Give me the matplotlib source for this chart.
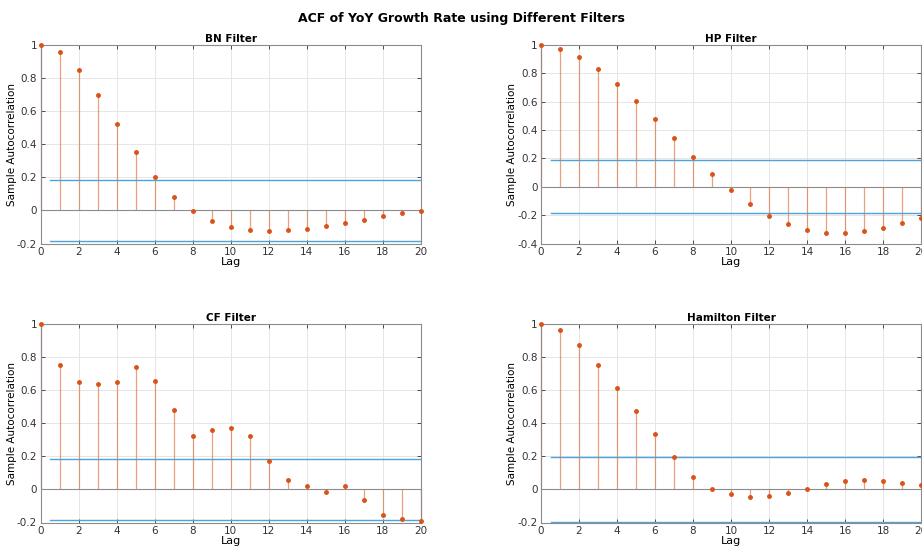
import numpy as np
import matplotlib.pyplot as plt

lags = np.arange(21)

bn_acf = [1, 0.958, 0.85, 0.695, 0.522, 0.352, 0.205, 0.083, -0.005, -0.065, -0.102,
          -0.12, -0.125, -0.12, -0.11, -0.095, -0.078, -0.058, -0.035, -0.017, -0.005]
hp_acf = [1, 0.97, 0.912, 0.83, 0.725, 0.607, 0.48, 0.343, 0.213, 0.088, -0.025,
          -0.122, -0.205, -0.265, -0.305, -0.325, -0.328, -0.315, -0.29, -0.258, -0.22]
cf_acf = [1, 0.755, 0.648, 0.64, 0.648, 0.74, 0.655, 0.48, 0.322, 0.36, 0.37,
          0.32, 0.172, 0.058, 0.018, -0.015, 0.02, -0.065, -0.155, -0.18, -0.19]
ham_acf = [1, 0.965, 0.872, 0.75, 0.615, 0.475, 0.332, 0.193, 0.078, 0.005, -0.03,
           -0.045, -0.04, -0.022, 0.005, 0.03, 0.05, 0.055, 0.05, 0.04, 0.027]

titles = ["BN Filter", "HP Filter", "CF Filter", "Hamilton Filter"]
series = [bn_acf, hp_acf, cf_acf, ham_acf]
upper_bounds = [0.183, 0.186, 0.183, 0.195]
lower_bounds = [-0.183, -0.186, -0.183, -0.198]
y_limits = [(-0.2, 1), (-0.4, 1), (-0.2, 1), (-0.2, 1)]

stem_col = '#D95319'
bound_col = '#4DA3DB'

fig = plt.figure(figsize=(9.22, 5.47), dpi=100)
W, H = 922, 547
boxes = [(40.7, 45, 380, 198.5), (541, 45, 380, 198.5),
         (40.7, 324, 380, 198.5), (541, 324, 380, 198.5)]

for (x0, y0, w, h), title, acf, ub, lb, ylim in zip(boxes, titles, series, upper_bounds,
                                                  lower_bounds, y_limits):
    ax = fig.add_axes([x0 / W, 1 - (y0 + h) / H, w / W, h / H])
    ax.grid(True, color='#e6e6e6', linewidth=0.7)
    ax.set_axisbelow(True)
    ax.vlines(lags, 0, acf, color=stem_col, linewidth=0.9, alpha=0.55, clip_on=False)
    ax.plot(lags, acf, '.', color=stem_col, markersize=5, clip_on=False, zorder=5)
    ax.plot([0, 20], [0, 0], color='#8c8c8c', linewidth=0.8)
    ax.plot([0.5, 20], [ub, ub], color=bound_col, linewidth=1.0)
    ax.plot([0.5, 20], [lb, lb], color=bound_col, linewidth=1.0, clip_on=False)
    ax.set_xlim(0, 20)
    ax.set_ylim(*ylim)
    ax.set_xticks(np.arange(0, 21, 2))
    yt = np.round(np.arange(ylim[0], 1.01, 0.2), 1)
    ax.set_yticks(yt)
    ax.set_yticklabels([('%g' % v) if v != 0 else '0' for v in yt])
    ax.tick_params(direction='in', length=3, labelsize=7.5, colors='#333333',
                   top=True, right=True, width=0.6, pad=2.5)
    for s in ax.spines.values():
        s.set_color('#8c8c8c')
        s.set_linewidth(0.8)
    ax.set_title(title, fontsize=7.5, fontweight='bold', pad=2)
    ax.set_xlabel('Lag', fontsize=8, labelpad=0)
    ax.set_ylabel('Sample Autocorrelation', fontsize=7.5, labelpad=0)

fig.suptitle('ACF of YoY Growth Rate using Different Filters', fontsize=9,
             fontweight='bold', y=0.978)

plt.savefig('out.png', dpi=100)
